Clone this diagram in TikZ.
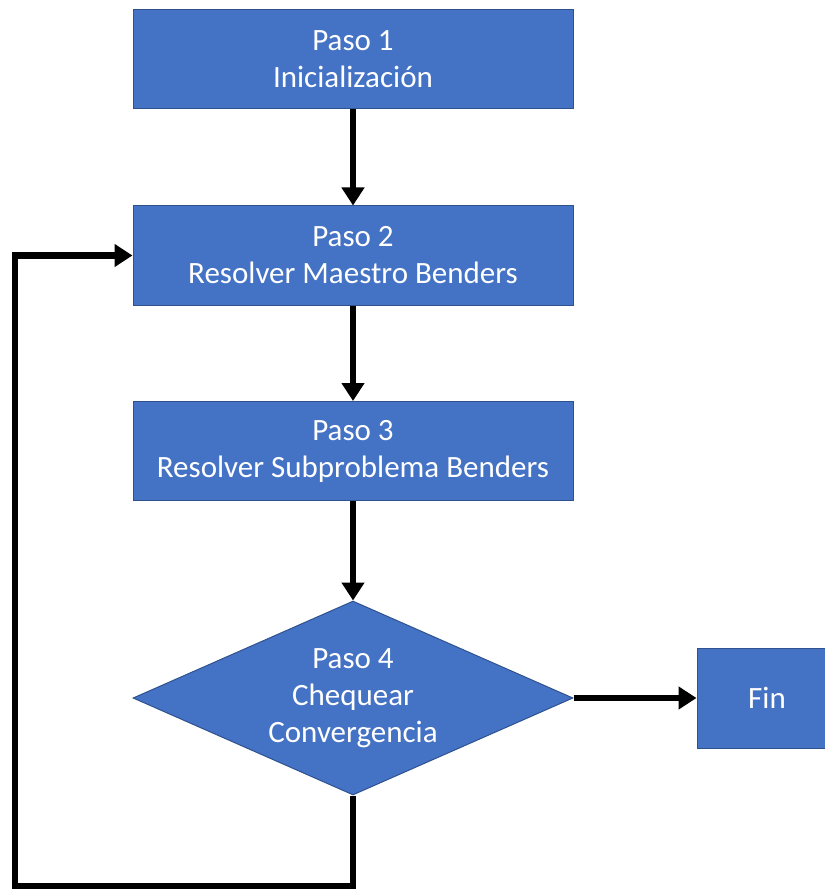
\documentclass[tikz,border=0pt]{standalone}
\usepackage{fontspec}
\setmainfont{Carlito}
\usetikzlibrary{positioning,arrows.meta,shapes.geometric}
\definecolor{officeblue}{HTML}{4472C4}
\definecolor{edgeblue}{HTML}{2F528F}

\begin{document}
\begin{tikzpicture}[x=1pt, y=-1pt, >={Triangle[length=18pt,width=22pt]},
    font=\fontsize{31}{37}\selectfont,
    b/.style={draw=edgeblue, line width=1pt, fill=officeblue, text=white, align=center,
              minimum width=440pt, minimum height=99pt, inner sep=0pt},
    rh/.style={b, diamond, shape aspect=2.27, minimum height=194pt},
    flow/.style={->, line width=6.5pt}]
    \useasboundingbox (0,0) rectangle (824,890);
    \node[b] (p1) at (353,59.5) {Paso 1\\Inicialización};
    \node[b] (p2) at (353,255.5) {Paso 2\\Resolver Maestro Benders};
    \node[b] (p3) at (353,451) {Paso 3\\Resolver Subproblema Benders};
    \node[rh] (p4) at (353,698) {Paso 4\\Chequear\\Convergencia};
    \node[b, minimum width=140pt, minimum height=100pt] (fin) at (767,698) {Fin};
    \coordinate (lo) at (15,886);

    \foreach \a/\b in {p1/p2, p2/p3, p3/p4} \draw[flow] (\a) -- (\b);
    \draw[flow] (p4) -- (fin);
    \draw[flow] (p4.south) |- (lo) |- (p2.west);
  \end{tikzpicture}
\end{document}
